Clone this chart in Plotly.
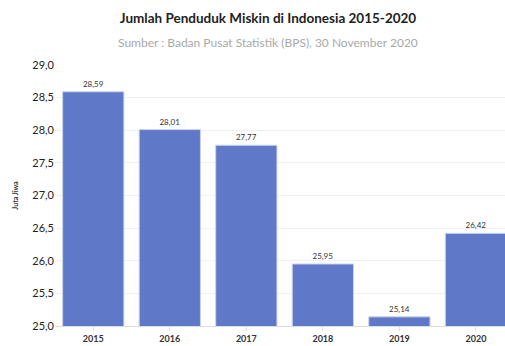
import plotly.graph_objects as go

years = ["2015", "2016", "2017", "2018", "2019", "2020"]
values = [28.59, 28.01, 27.77, 25.95, 25.14, 26.42]
labels = ["28,59", "28,01", "27,77", "25,95", "25,14", "26,42"]
y_ticks = [25.0, 25.5, 26.0, 26.5, 27.0, 27.5, 28.0, 28.5, 29.0]
y_ticktext = ["25,0", "25,5", "26,0", "26,5", "27,0", "27,5", "28,0", "28,5", "29,0"]

fig = go.Figure(go.Bar(
    x=years, y=values, text=labels, textposition="outside",
    textfont=dict(size=8, color="#333333", family="Lato"),
    marker=dict(color="#5f78c8", line=dict(color="#c9d2ee", width=1)),
    cliponaxis=False,
))

fig.update_layout(
    width=505, height=346,
    margin=dict(l=55, r=0, t=65, b=20),
    paper_bgcolor="white", plot_bgcolor="white",
    bargap=0.2,
    showlegend=False,
    font=dict(family="Lato", color="#333333"),
    title=dict(text="<b>Jumlah Penduduk Miskin di Indonesia 2015-2020</b>",
               x=268 / 505, xanchor="center", xref="container",
               y=1 - 18 / 346, yanchor="middle", yref="container",
               font=dict(size=13.5, color="#222222", family="Lato")),
)
fig.add_annotation(text="Sumber : Badan Pusat Statistik (BPS), 30 November 2020",
                   xref="paper", yref="paper", x=(268 - 55) / 450, y=1 + 22 / 261,
                   xanchor="center", yanchor="middle",
                   showarrow=False, font=dict(size=12, color="#aaaaaa", family="Lato"))
fig.update_xaxes(range=[-0.5, 5.38], showgrid=False, ticks="outside", ticklen=4,
                 tickcolor="#dddddd", showline=True, linecolor="#dddddd",
                 tickfont=dict(size=9, color="#333333", family="Lato"),
                 tickprefix="<b>", ticksuffix="</b>")
fig.update_yaxes(range=[25, 29], tickvals=y_ticks, ticktext=y_ticktext,
                 showgrid=True, gridcolor="#f0f0f0", zeroline=False,
                 tickfont=dict(size=11, color="#222222", family="Lato"),
                 title=dict(text="<b>Juta Jiwa</b>", font=dict(size=7, color="#333333"), standoff=12))

fig.write_html("out.html")
